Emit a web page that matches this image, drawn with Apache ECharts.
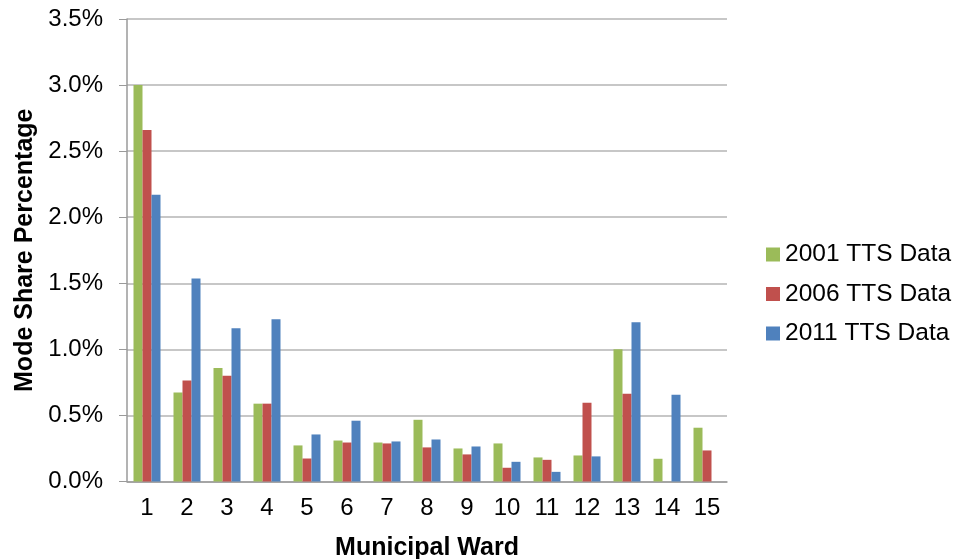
<!DOCTYPE html>
<html>
<head>
<meta charset="utf-8">
<script src="https://cdn.jsdelivr.net/npm/echarts@6/dist/echarts.min.js"></script>
<style>html,body{margin:0;padding:0;background:#fff;}#c{width:965px;height:559px;}</style>
</head>
<body>
<div id="c"></div>
<script>
const wards = ['1','2','3','4','5','6','7','8','9','10','11','12','13','14','15'];
const tts2001 = [3.00, 0.674, 0.858, 0.589, 0.273, 0.31, 0.295, 0.467, 0.25, 0.288, 0.182, 0.197, 1.00, 0.172, 0.407];
const tts2006 = [2.66, 0.765, 0.80, 0.589, 0.174, 0.295, 0.288, 0.258, 0.205, 0.104, 0.164, 0.596, 0.664, null, 0.235];
const tts2011 = [2.17, 1.536, 1.16, 1.227, 0.356, 0.46, 0.303, 0.318, 0.265, 0.149, 0.073, 0.19, 1.205, 0.657, null];
const seriesNames = ['2001 TTS Data', '2006 TTS Data', '2011 TTS Data'];
const colors = ['#9BBB59', '#C0504D', '#4F81BD'];

const font = 'Liberation Sans, Arial, sans-serif';
const FS = 24;
const chart = echarts.init(document.getElementById('c'));
const mk = (name, data, color) => ({
  name, type: 'bar', data, barWidth: 9, barGap: '0%',
  itemStyle: { color }
});
chart.setOption({
  animation: false,
  textStyle: { fontFamily: font },
  grid: { left: 127, right: 238, top: 19, bottom: 77.5, containLabel: false, outerBoundsMode: 'none' },
  legend: {
    orient: 'vertical', left: 761, top: 237, itemGap: 14.5,
    itemWidth: 14, itemHeight: 14, icon: 'rect',
    textStyle: { fontSize: 24.5, color: '#000', fontFamily: font },
    data: seriesNames
  },
  xAxis: {
    type: 'category', data: wards,
    name: 'Municipal Ward', nameLocation: 'middle', nameGap: 54,
    nameTextStyle: { fontSize: 25, fontWeight: 'bold', color: '#000', fontFamily: font },
    axisLine: { lineStyle: { color: '#9a9a9a', width: 1.5 } },
    axisTick: { show: false },
    axisLabel: { fontSize: FS, color: '#000', margin: 15, fontFamily: font }
  },
  yAxis: {
    type: 'value', min: 0, max: 3.5, interval: 0.5,
    name: 'Mode Share Percentage', nameLocation: 'middle', nameGap: 85,
    nameTextStyle: { fontSize: 25, fontWeight: 'bold', color: '#000', fontFamily: font },
    axisLine: { show: true, lineStyle: { color: '#9a9a9a', width: 1.5 } },
    axisTick: { show: true, inside: false, length: 8, lineStyle: { color: '#9a9a9a' } },
    axisLabel: { fontSize: FS, color: '#000', margin: 24, fontFamily: font,
      formatter: v => v.toFixed(1) + '%' },
    splitLine: { lineStyle: { color: '#b5b5b5', width: 1.5 } }
  },
  series: [
    mk(seriesNames[0], tts2001, colors[0]),
    mk(seriesNames[1], tts2006, colors[1]),
    mk(seriesNames[2], tts2011, colors[2])
  ]
});
</script>
</body>
</html>
